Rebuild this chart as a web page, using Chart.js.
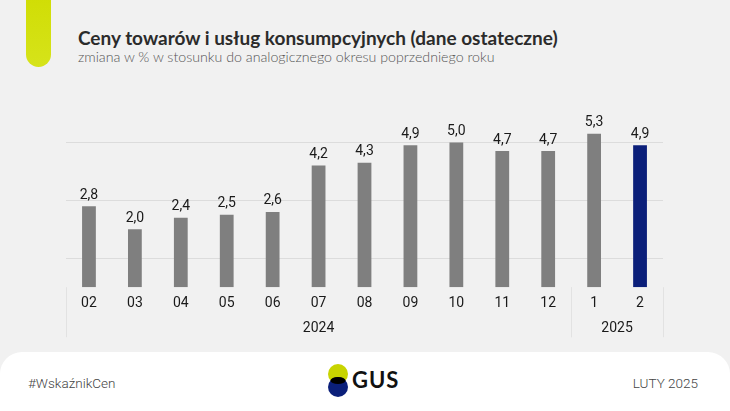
<!DOCTYPE html>
<html>
<head>
<meta charset="utf-8">
<script src="https://cdn.jsdelivr.net/npm/chart.js@4.4.1/dist/chart.umd.min.js"></script>
<style>
  body { margin: 0; width: 730px; height: 411px; background: #f1f1f1; overflow: hidden; position: relative; font-family: Lato, "Noto Sans", sans-serif; }
  .pill { position: absolute; left: 26px; top: -20px; width: 25px; height: 87px; border-radius: 13px; background: linear-gradient(#cfdc00, #d6e31a); }
  .title { position: absolute; left: 78px; top: 26px; font-size: 19px; font-weight: 700; color: #2b2b2b; white-space: nowrap; }
  .sub { position: absolute; left: 78px; top: 48px; font-size: 14.2px; color: #555; white-space: nowrap; font-weight: 300; }
  #wrap { position: absolute; left: 0; top: 95px; width: 730px; height: 245px; }
  .footer { position: absolute; left: 0; top: 352px; width: 730px; height: 80px; background: #fff; border-radius: 22px; }
  .ftxt { position: absolute; top: 375px; font-size: 13.5px; color: #444; font-family: Roboto, sans-serif; font-weight: 300; }
  .logo { position: absolute; left: 325px; top: 362px; }
</style>
</head>
<body>
<div class="pill"></div>
<div class="title">Ceny towarów i usług konsumpcyjnych (dane ostateczne)</div>
<div class="sub">zmiana w % w stosunku do analogicznego okresu poprzedniego roku</div>
<div id="wrap"><canvas id="myChart"></canvas></div>
<div class="footer"></div>
<div class="ftxt" style="left:28px">#WskaźnikCen</div>
<div class="ftxt" style="right:32px">LUTY 2025</div>
<svg class="logo" width="80" height="40">
  <circle cx="13" cy="12" r="10" fill="#c8d400"/>
  <circle cx="13" cy="25" r="10" fill="#0b1f7a"/>
  <ellipse cx="13" cy="18.5" rx="7.5" ry="3.6" fill="#000"/>
  <text x="27" y="26" font-family="Lato, sans-serif" font-size="22" font-weight="700" fill="#111" letter-spacing="1">GUS</text>
</svg>

<script>
// data
var months = ["02", "03", "04", "05", "06", "07", "08", "09", "10", "11", "12", "1", "2"];
var values = [2.8, 2.0, 2.4, 2.5, 2.6, 4.2, 4.3, 4.9, 5.0, 4.7, 4.7, 5.3, 4.9];
var years = ["2024", "2025"];
var yearSpans = [11, 2];
var gridTicks = [1, 3, 5];

var barColors = values.map(function (v, i) { return i == values.length - 1 ? "#0b1f7a" : "#7f7f7f"; });
var narrow = "Roboto, sans-serif";

// value labels above bars
var valueLabels = {
  id: "valueLabels",
  afterDatasetsDraw: function (chart) {
    var ctx = chart.ctx;
    var meta = chart.getDatasetMeta(0);
    ctx.save();
    ctx.font = "14px " + narrow;
    ctx.fillStyle = "#1a1a1a";
    ctx.textAlign = "center";
    ctx.textBaseline = "bottom";
    meta.data.forEach(function (bar, i) {
      ctx.fillText(values[i].toFixed(1).replace(".", ","), bar.x, bar.y - 4);
    });
    ctx.restore();
  }
};

// year row + separators under the x axis
var yearRow = {
  id: "yearRow",
  afterDraw: function (chart) {
    var ctx = chart.ctx;
    var x = chart.scales.x;
    var half = (x.getPixelForValue(1) - x.getPixelForValue(0)) / 2;
    var top = chart.chartArea.bottom;
    var bottom = top + 50;
    ctx.save();
    ctx.strokeStyle = "#e2e2e2";
    ctx.lineWidth = 1;
    ctx.font = "14px " + narrow;
    ctx.fillStyle = "#1a1a1a";
    ctx.textAlign = "center";
    ctx.textBaseline = "middle";
    var start = 0;
    for (var g = 0; g < years.length; g++) {
      var end = start + yearSpans[g] - 1;
      var left = x.getPixelForValue(start) - half;
      var right = x.getPixelForValue(end) + half;
      [left, right].forEach(function (px) {
        ctx.beginPath();
        ctx.moveTo(Math.round(px) + 0.5, top);
        ctx.lineTo(Math.round(px) + 0.5, bottom);
        ctx.stroke();
      });
      ctx.fillText(years[g], (left + right) / 2, top + 41);
      start = end + 1;
    }
    ctx.restore();
  }
};

new Chart("myChart", {
  type: "bar",
  data: {
    labels: months,
    datasets: [{
      data: values,
      backgroundColor: barColors,
      barPercentage: 0.6,
      categoryPercentage: 0.5
    }]
  },
  options: {
    responsive: true,
    maintainAspectRatio: false,
    animation: false,
    layout: { padding: { left: 66, right: 67, top: 4, bottom: 20 } },
    plugins: { legend: { display: false }, tooltip: { enabled: false } },
    scales: {
      x: {
        grid: { display: false, drawTicks: false },
        border: { display: false },
        ticks: { color: "#1a1a1a", font: { family: narrow, size: 14 }, padding: 8 }
      },
      y: {
        min: 0,
        max: 6.5,
        afterBuildTicks: function (axis) {
          axis.ticks = gridTicks.map(function (v) { return { value: v }; });
        },
        ticks: { display: false },
        grid: { color: "#dcdcdc", drawTicks: false },
        border: { display: false }
      }
    }
  },
  plugins: [valueLabels, yearRow]
});
</script>
</body>
</html>
